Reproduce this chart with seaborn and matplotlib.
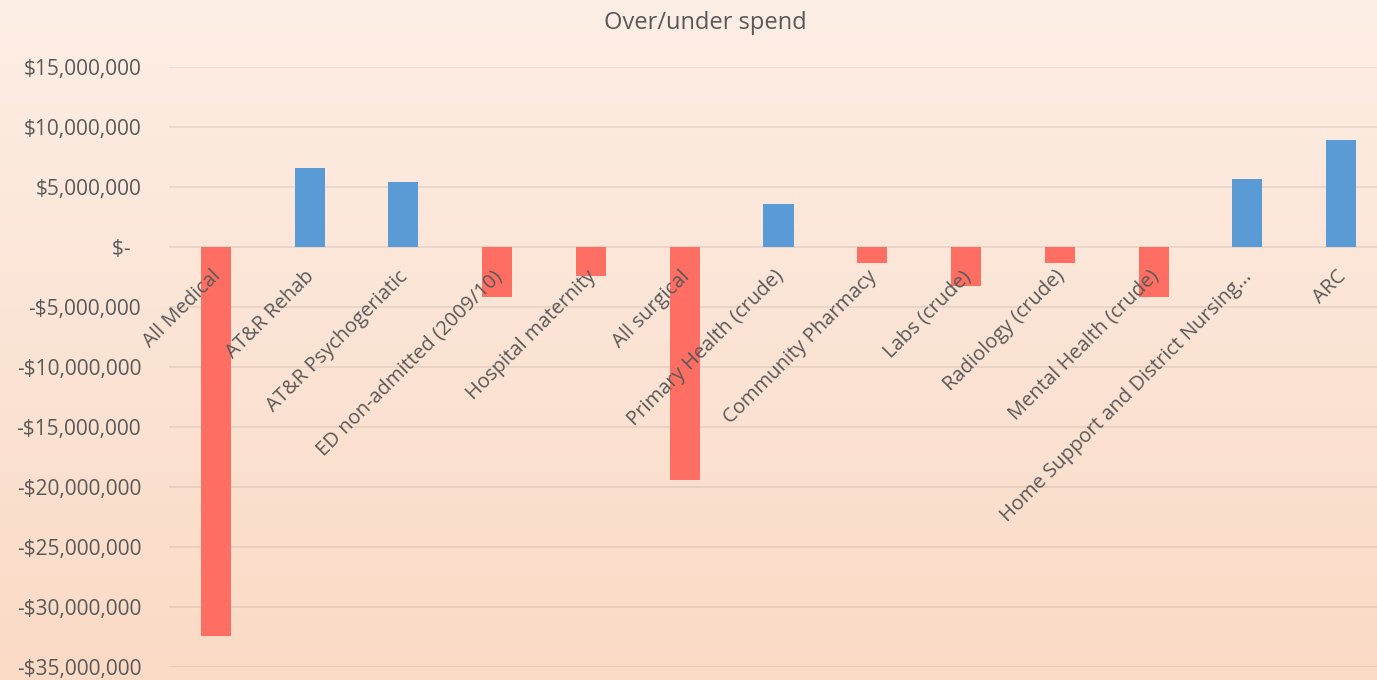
import numpy as np
import pandas as pd
import matplotlib
matplotlib.use("Agg")
import matplotlib.pyplot as plt
from matplotlib.transforms import ScaledTranslation
import seaborn as sns

# Spend variance by service area (NZ$)
categories = [
    "All Medical", "AT&R Rehab", "AT&R Psychogeriatic", "ED non-admitted (2009/10)",
    "Hospital maternity", "All surgical", "Primary Health (crude)", "Community Pharmacy",
    "Labs (crude)", "Radiology (crude)", "Mental Health (crude)",
    "Home Support and District Nursing...", "ARC",
]
variance = [
    -32_400_000, 6_600_000, 5_450_000, -4_150_000,
    -2_400_000, -19_400_000, 3_600_000, -1_350_000,
    -3_250_000, -1_350_000, -4_200_000,
    5_700_000, 8_900_000,
]
y_ticks = [15_000_000, 10_000_000, 5_000_000, 0, -5_000_000, -10_000_000, -15_000_000,
           -20_000_000, -25_000_000, -30_000_000, -35_000_000]
y_tick_labels = ["$15,000,000", "$10,000,000", "$5,000,000", "$-  ", "-$5,000,000",
                 "-$10,000,000", "-$15,000,000", "-$20,000,000", "-$25,000,000",
                 "-$30,000,000", "-$35,000,000"]
title = "Over/under spend"

POS_COLOR = "#5B9BD5"
NEG_COLOR = "#FF6E63"
TEXT_COLOR = "#595959"

sns.set_theme(style="white")
plt.rcParams["font.family"] = ["Open Sans", "DejaVu Sans"]

df = pd.DataFrame({"category": categories, "variance": variance})
bar_colors = [POS_COLOR if v >= 0 else NEG_COLOR for v in variance]

W, H, DPI = 1377, 680, 100
fig = plt.figure(figsize=(W / DPI, H / DPI), dpi=DPI)

# Soft peach vertical gradient behind the whole chart
bg = fig.add_axes([0, 0, 1, 1], zorder=0)
top = np.array([253, 238, 229]) / 255
bottom = np.array([250, 218, 197]) / 255
t = np.linspace(0, 1, 256)[:, None]
grad = (top[None, :] * (1 - t) + bottom[None, :] * t)[:, None, :]
bg.imshow(grad, aspect="auto", extent=[0, 1, 0, 1])
bg.axis("off")

ax = fig.add_axes([169 / W, 1 - 667 / H, (1388 - 169) / W, 600 / H], zorder=1)
ax.patch.set_alpha(0)

# Horizontal gridlines under the bars
for yv in y_ticks:
    ax.axhline(yv, color="#8a7a70", alpha=0.18, linewidth=1.2, zorder=0.5)

sns.barplot(data=df, x="category", y="variance", hue="category", palette=bar_colors,
            width=0.32, legend=False, ax=ax, saturation=1, zorder=2, linewidth=0)

ax.set_xlim(-0.5, len(categories) - 0.5)
ax.set_ylim(-35_000_000, 15_000_000)
ax.set_yticks(y_ticks)
ax.set_yticklabels(y_tick_labels)
ax.grid(False)
ax.set_axisbelow(False)
ax.set_xlabel("")
ax.set_ylabel("")

for side in ["top", "right", "left", "bottom"]:
    ax.spines[side].set_visible(False)
ax.spines["bottom"].set_position(("data", 0))

ax.tick_params(axis="y", length=0, pad=20, labelsize=15, labelcolor=TEXT_COLOR)
ax.tick_params(axis="x", length=0, pad=14, labelsize=14.5, labelcolor=TEXT_COLOR)
ax.set_xticks(range(len(categories)))
ax.set_xticklabels(categories, rotation=45, ha="right")
shift = ScaledTranslation(9 / DPI, 0, fig.dpi_scale_trans)
for lab in ax.get_xticklabels():
    lab.set_transform(lab.get_transform() + shift)

fig.text(705 / W, 1 - 23 / H, title, ha="center", va="center",
         fontsize=17, color=TEXT_COLOR)

fig.savefig("out.png", dpi=DPI)
